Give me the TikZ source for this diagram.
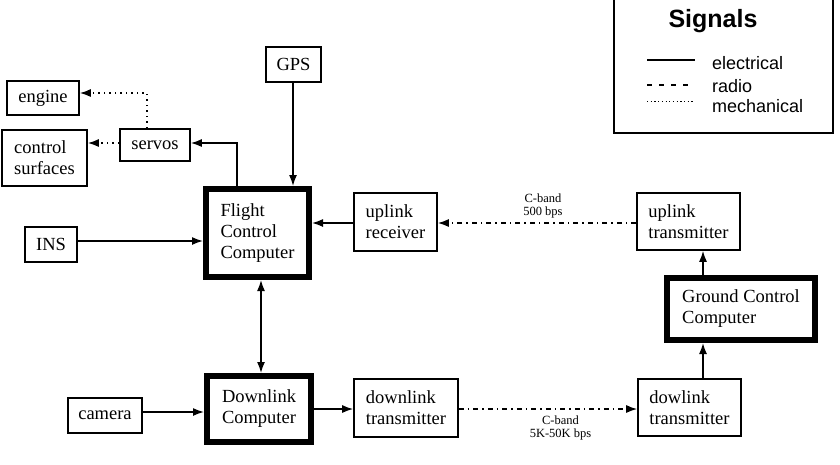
\documentclass[tikz,border=0pt]{standalone}
\usepackage{fontspec}
\setmainfont{Liberation Serif}
\newfontfamily\legendfont{Liberation Sans}
\usetikzlibrary{arrows.meta}
\begin{document}
\begin{tikzpicture}[x=1pt,y=-1pt,
  box/.style={draw, line width=1.6pt, align=left, inner sep=0pt, font=\fontsize{18.5}{21}\selectfont},
  thickbox/.style={box, line width=6pt},
  arr/.style={-{Latex[length=11pt,width=8pt]}},
  elec/.style={line width=1.5pt, arr},
  radio/.style={line width=1.5pt, arr, dash pattern=on 5pt off 4pt on 1.5pt off 4pt},
  mech/.style={line width=1.5pt, arr, dash pattern=on 1.5pt off 4pt},
  lbl/.style={font=\fontsize{12.5}{13}\selectfont, align=center, inner sep=0pt},
  legtext/.style={font=\legendfont\fontsize{18}{20}\selectfont, anchor=west, inner sep=0pt}]
\useasboundingbox (0,0) rectangle (840,464);

% nodes
\node[box, minimum width=55pt, minimum height=35pt] (gps) at (293.5,64.5) {GPS};
\node[box, minimum width=72pt, minimum height=34pt] (engine) at (43,98) {engine};
\node[box, minimum width=85pt, minimum height=56pt] (cs) at (44.5,158) {control\\surfaces};
\node[box, minimum width=70pt, minimum height=32pt] (servos) at (155,145) {servos};
\node[thickbox, minimum width=103pt, minimum height=88pt] (fcc) at (257.5,233) {Flight\\Control\\Computer};
\node[box, minimum width=52pt, minimum height=35pt] (ins) at (51,244.5) {INS};
\node[box, minimum width=83pt, minimum height=58pt] (ur) at (395.5,222) {uplink\\receiver};
\node[box, minimum width=103pt, minimum height=57pt] (ut) at (688.5,221.5) {uplink\\transmitter};
\node[thickbox, minimum width=148pt, minimum height=62pt] (gcc) at (741,309) {Ground Control\\Computer};
\node[box, minimum width=103pt, minimum height=57pt] (dwt) at (689.5,407.5) {dowlink\\transmitter};
\node[box, minimum width=104pt, minimum height=58pt] (dt) at (406,408) {downlink\\transmitter};
\node[thickbox, minimum width=104pt, minimum height=66pt] (dc) at (259,409) {Downlink\\Computer};
\node[box, minimum width=74pt, minimum height=35pt] (cam) at (105,415.5) {camera};

% connectors
\draw[elec] (gps.south -| 293,0) -- (fcc.north -| 293,0);
\draw[elec] (fcc.north -| 237,0) |- (servos.east |- 0,143);
\draw[mech] (servos.west |- 0,143) -- (cs.east |- 0,143);
\draw[mech] (servos.north -| 147,0) |- (engine.east |- 0,93);
\draw[elec] (ins.east |- 0,241) -- (fcc.west |- 0,241);
\draw[elec] (ur.west |- 0,223) -- (fcc.east |- 0,223);
\draw[radio] (ut.west |- 0,223) -- node[lbl, pos=0.47, above=4pt] (l1) {C-band\\500 bps} (ur.east |- 0,223);
\draw[line width=1.5pt, {Latex[length=11pt,width=8pt]}-{Latex[length=11pt,width=8pt]}] (fcc.south -| 261,0) -- (dc.north -| 261,0);
\draw[elec] (cam.east |- 0,412) -- (dc.west |- 0,412);
\draw[elec] (dc.east |- 0,409) -- (dt.west |- 0,409);
\draw[radio] (dt.east |- 0,409) -- node[lbl, pos=0.57, below=6pt] (l2) {C-band\\5K-50K bps} (dwt.west |- 0,409);
\draw[elec] (dwt.north -| 703,0) -- (gcc.south -| 703,0);
\draw[elec] (gcc.north -| 703,0) -- (ut.south -| 703,0);

% legend
\draw[line width=1.5pt] (614,-5) rectangle (833,133);
\node[font=\legendfont\bfseries\fontsize{25}{28}\selectfont, inner sep=0pt] (sig) at (713,21) {Signals};
\coordinate (e1) at (647,60); \coordinate (e2) at (695,60);
\coordinate (r1) at (647,85); \coordinate (r2) at (695,85);
\coordinate (m1) at (647,101); \coordinate (m2) at (695,101);
\draw[line width=1.3pt] (e1) -- (e2);
\draw[line width=1.3pt, dash pattern=on 5pt off 7pt] (r1) -- (r2);
\draw[line width=1pt, dash pattern=on 1.2pt off 2.5pt] (m1) -- (m2);
\node[legtext] (te) at (712,63) {electrical};
\node[legtext] (tr) at (712,86) {radio};
\node[legtext] (tm) at (712,106) {mechanical};
\end{tikzpicture}
\end{document}
